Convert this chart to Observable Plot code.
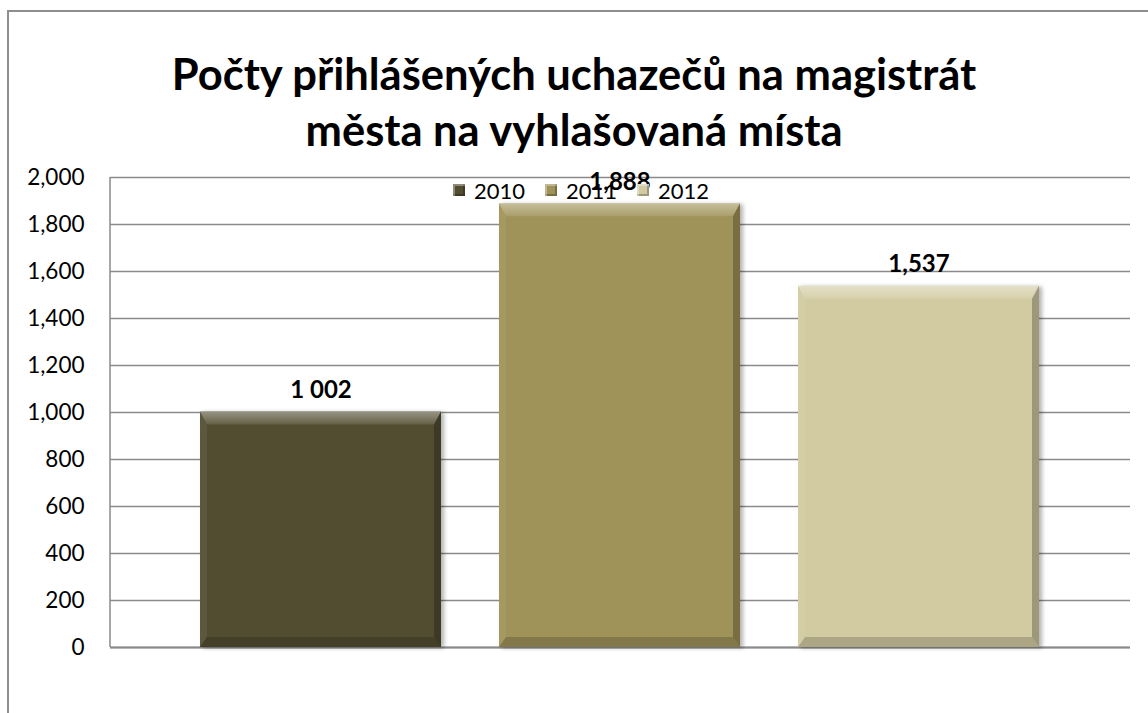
<!DOCTYPE html>
<html><head><meta charset="utf-8">
<script src="https://cdn.jsdelivr.net/npm/d3@7"></script>
<script src="https://cdn.jsdelivr.net/npm/@observablehq/plot@0.6"></script>
<style>
body{margin:0;background:#fff;}
#wrap{position:relative;width:1148px;height:713px;overflow:hidden;font-family:Lato,"Open Sans",sans-serif;background:#fff;}
#frame{position:absolute;left:7px;top:10px;width:1300px;height:900px;border:2px solid #8f8f8f;box-sizing:border-box;}
#title{position:absolute;left:0;top:45px;width:1148px;text-align:center;font-weight:bold;font-size:43.5px;line-height:56px;color:#000;}
#chart{position:absolute;left:0;top:160px;}
#legend{position:absolute;top:177px;left:453px;display:flex;align-items:center;font-size:22px;height:26px;color:#000;}
.item{display:flex;align-items:center;margin-right:20px;}
.sw{display:inline-block;width:12px;height:12px;margin-right:9px;box-sizing:border-box;}
</style></head>
<body>
<div id="wrap">
  <div id="frame"></div>
  <div id="title">Počty přihlášených uchazečů na magistrát<br>města na vyhlašovaná místa</div>
  <div id="chart"></div>
  <div id="legend"></div>
</div>
<script>
const years = ["2010", "2011", "2012"];
const values = [1002, 1888, 1537];
const labels = ["1 002", "1,888", "1,537"];
const colors = ["#524d31", "#a09359", "#d2cba2"];
const yTicks = [0, 200, 400, 600, 800, 1000, 1200, 1400, 1600, 1800, 2000];

const data = years.map((y, i) => ({year: y, value: values[i], label: labels[i]}));

function bevel(index, scales, vals, dims, ctx, next) {
  const g = next(index, scales, vals, dims, ctx);
  const sel = d3.select(g);
  sel.style("filter", "drop-shadow(3px 1px 2px rgba(0,0,0,0.3))");
  const rects = [];
  sel.selectAll("rect").each(function () { rects.push(this); });
  rects.forEach(el => {
    const x = +el.getAttribute("x"), y = +el.getAttribute("y");
    const w = +el.getAttribute("width"), h = +el.getAttribute("height");
    const s = 7, t = 13, b = 10;
    const poly = (pts, fill) => sel.append("polygon")
      .attr("points", pts.map(p => p.join(",")).join(" "))
      .attr("fill", fill);
    poly([[x, y], [x + w, y], [x + w - s, y + t], [x + s, y + t]], "url(#bevTop)");
    poly([[x, y], [x + s, y + t], [x + s, y + h - b], [x, y + h]], "rgba(255,255,255,0.06)");
    poly([[x + w, y], [x + w, y + h], [x + w - s, y + h - b], [x + w - s, y + t]], "rgba(0,0,0,0.25)");
    poly([[x, y + h], [x + w, y + h], [x + w - s, y + h - b], [x + s, y + h - b]], "rgba(0,0,0,0.18)");
  });
  return g;
}

const chart = Plot.plot({
  width: 1148,
  height: 553,
  marginLeft: 110,
  marginRight: 18,
  marginTop: 17,
  marginBottom: 66,
  style: {fontFamily: "Lato, 'Open Sans', sans-serif", fontSize: "22px", color: "#000", background: "transparent"},
  x: {domain: years, paddingInner: 0.193, paddingOuter: 0.2967, axis: null},
  y: {domain: [0, 2000], ticks: yTicks, label: null},
  color: {domain: years, range: colors},
  marks: [
    Plot.gridY(yTicks, {stroke: "#8a8a8a", strokeOpacity: 1, strokeWidth: 1.5}),
    Plot.axisY(yTicks, {tickSize: 0, tickPadding: 26, tickFormat: d3.format(","), fontSize: 22.5, label: null}),
    Plot.ruleY([0], {stroke: "#8a8a8a", strokeWidth: 2}),
    Plot.barY(data, {x: "year", y: "value", fill: "year", render: bevel}),
    Plot.text(data, {x: "year", y: "value", text: "label", dy: -22, fontWeight: "bold", fontSize: 24, fill: "#000"}),
    (index, scales, vals, dims) => {
      const l = d3.create("svg:line")
        .attr("x1", dims.marginLeft).attr("x2", dims.marginLeft)
        .attr("y1", dims.marginTop).attr("y2", dims.height - dims.marginBottom)
        .attr("stroke", "#8a8a8a").attr("stroke-width", 1.5);
      return l.node();
    }
  ]
});

const defs = d3.select(chart).insert("defs", ":first-child");
const lg = defs.append("linearGradient").attr("id", "bevTop").attr("x1", 0).attr("y1", 0).attr("x2", 0).attr("y2", 1);
lg.append("stop").attr("offset", "0%").attr("stop-color", "#fff").attr("stop-opacity", 0.4);
lg.append("stop").attr("offset", "100%").attr("stop-color", "#fff").attr("stop-opacity", 0.1);

document.getElementById("chart").appendChild(chart);

const legend = d3.select("#legend");
years.forEach((y, i) => {
  const it = legend.append("div").attr("class", "item");
  it.append("span").attr("class", "sw")
    .style("background", colors[i])
    .style("box-shadow", "inset 2px 2px 0 rgba(255,255,255,0.35), inset -2px -2px 0 rgba(0,0,0,0.25)");
  it.append("span").text(y);
});
</script>
</body></html>
